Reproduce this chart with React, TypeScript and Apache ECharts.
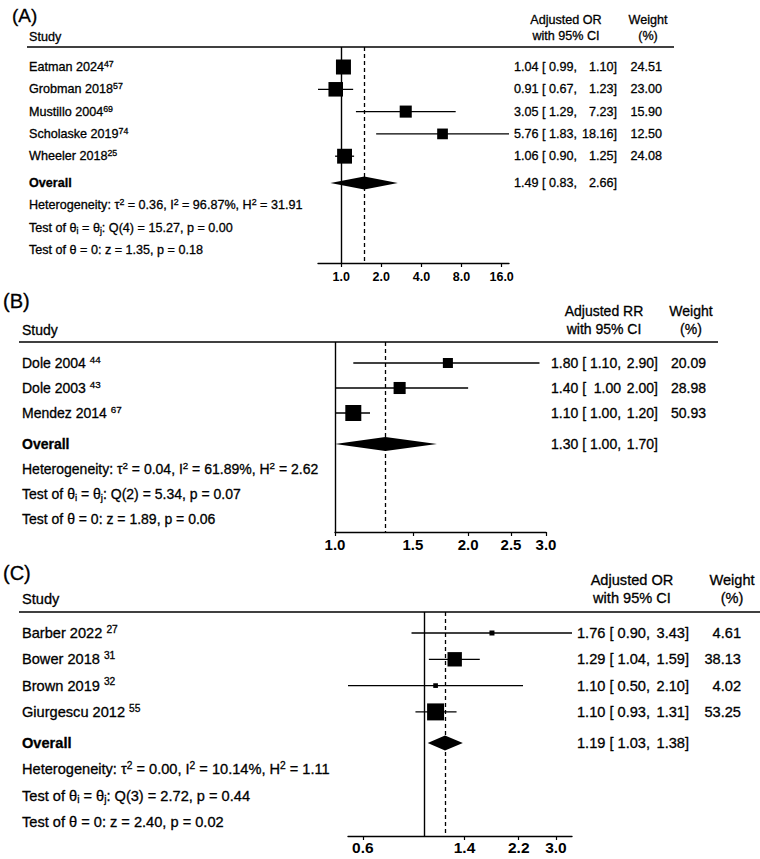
import React, { useEffect, useRef } from 'react';
import * as echarts from 'echarts';

const FONT = "'Liberation Sans', Arial, Helvetica, sans-serif";

// ---------- Panel A (Adjusted OR) ----------
const studiesA = ['Eatman 2024', 'Grobman 2018', 'Mustillo 2004', 'Scholaske 2019', 'Wheeler 2018'];
const refsA = ['47', '57', '69', '74', '25'];
const estA = [1.04, 0.91, 3.05, 5.76, 1.06];
const lowA = [0.99, 0.67, 1.29, 1.83, 0.9];
const highA = [1.1, 1.23, 7.23, 18.16, 1.25];
const weightA = [24.51, 23.0, 15.9, 12.5, 24.08];
const ciLeftA = ['1.04 [ 0.99,', '0.91 [ 0.67,', '3.05 [ 1.29,', '5.76 [ 1.83,', '1.06 [ 0.90,'];
const ciRightA = ['1.10]', '1.23]', '7.23]', '18.16]', '1.25]'];
const overallA = [1.49, 0.83, 2.66];
const overallTextA = ['1.49 [ 0.83,', '2.66]'];
const statsA = [
  'Heterogeneity: τ{p|2} = 0.36, I{p|2} = 96.87%, H{p|2} = 31.91',
  'Test of θ{b|i} = θ{b|j}: Q(4) = 15.27, p = 0.00',
  'Test of θ = 0: z = 1.35, p = 0.18',
];
const ticksA = [1, 2, 4, 8, 16];

// ---------- Panel B (Adjusted RR) ----------
const studiesB = ['Dole 2004', 'Dole 2003', 'Mendez 2014'];
const refsB = ['44', '43', '67'];
const estB = [1.8, 1.4, 1.1];
const lowB = [1.1, 1.0, 1.0];
const highB = [2.9, 2.0, 1.2];
const weightB = [20.09, 28.98, 50.93];
const ciLeftB = ['1.80 [ 1.10,', '1.40 [  1.00', '1.10 [ 1.00,'];
const ciRightB = ['2.90]', '2.00]', '1.20]'];
const overallB = [1.3, 1.0, 1.7];
const overallTextB = ['1.30 [ 1.00,', '1.70]'];
const statsB = [
  'Heterogeneity: τ{p|2} = 0.04, I{p|2} = 61.89%, H{p|2} = 2.62',
  'Test of θ{b|i} = θ{b|j}: Q(2) = 5.34, p = 0.07',
  'Test of θ = 0: z = 1.89, p = 0.06',
];
const ticksB = [1.0, 1.5, 2.0, 2.5, 3.0];

// ---------- Panel C (Adjusted OR) ----------
const studiesC = ['Barber 2022', 'Bower 2018', 'Brown 2019', 'Giurgescu 2012'];
const refsC = ['27', '31', '32', '55'];
const estC = [1.76, 1.29, 1.1, 1.1];
const lowC = [0.9, 1.04, 0.53, 0.93];
const highC = [3.43, 1.59, 2.28, 1.31];
const weightC = [4.61, 38.13, 4.02, 53.25];
const ciLeftC = ['1.76 [ 0.90,', '1.29 [ 1.04,', '1.10 [ 0.50,', '1.10 [ 0.93,'];
const ciRightC = ['3.43]', '1.59]', '2.10]', '1.31]'];
const overallC = [1.19, 1.03, 1.38];
const overallTextC = ['1.19 [ 1.03,', '1.38]'];
const statsC = [
  'Heterogeneity: τ{p|2} = 0.00, I{p|2} = 10.14%, H{p|2} = 1.11',
  'Test of θ{b|i} = θ{b|j}: Q(3) = 2.72, p = 0.44',
  'Test of θ = 0: z = 2.40, p = 0.02',
];
const ticksC = [0.6, 1.4, 2.2, 3.0];

type Layout = {
  fs: number; tickFs: number; tickMargin: number; letterFs: number; letterX: number; letterY: number;
  labelX: number; refGap: string; ruleX1: number; ruleX2: number; ruleY: number;
  head1Y: number; head2Y: number; studyY: number; col1X: number; col2X: number;
  ciLX: number; ciRX: number; wRX: number; gridLeft: number; gridWidth: number;
  axisY: number; rowY0: number; step: number; overallGap: number; maxBox: number; diamondH: number;
};

type Panel = {
  letter: string; measure: string; studies: string[]; refs: string[];
  est: number[]; low: number[]; high: number[]; weight: number[];
  ciLeft: string[]; ciRight: string[]; overall: number[]; overallText: string[];
  stats: string[]; ticks: number[]; L: Layout;
};

const panels: Panel[] = [
  {
    letter: '(A)', measure: 'Adjusted OR', studies: studiesA, refs: refsA, est: estA, low: lowA, high: highA,
    weight: weightA, ciLeft: ciLeftA, ciRight: ciRightA, overall: overallA, overallText: overallTextA,
    stats: statsA, ticks: ticksA,
    L: {
      fs: 12.6, tickFs: 12.5, tickMargin: 7, letterFs: 19, letterX: 12, letterY: 15, labelX: 29, refGap: '', ruleX1: 27, ruleX2: 674,
      ruleY: 47, head1Y: 20, head2Y: 36, studyY: 37, col1X: 566, col2X: 648, ciLX: 514, ciRX: 617, wRX: 662,
      gridLeft: 318, gridWidth: 191, axisY: 263, rowY0: 67, step: 22.3, overallGap: 1.2, maxBox: 15, diamondH: 13,
    },
  },
  {
    letter: '(B)', measure: 'Adjusted RR', studies: studiesB, refs: refsB, est: estB, low: lowB, high: highB,
    weight: weightB, ciLeft: ciLeftB, ciRight: ciRightB, overall: overallB, overallText: overallTextB,
    stats: statsB, ticks: ticksB,
    L: {
      fs: 14, tickFs: 15, tickMargin: 5, letterFs: 20, letterX: 3, letterY: 301, labelX: 22, refGap: ' ', ruleX1: 19, ruleX2: 718,
      ruleY: 342, head1Y: 311, head2Y: 329, studyY: 330, col1X: 604, col2X: 691, ciLX: 551, ciRX: 658, wRX: 706,
      gridLeft: 335, gridWidth: 211, axisY: 532, rowY0: 363, step: 25, overallGap: 1.24, maxBox: 16, diamondH: 14,
    },
  },
  {
    letter: '(C)', measure: 'Adjusted OR', studies: studiesC, refs: refsC, est: estC, low: lowC, high: highC,
    weight: weightC, ciLeft: ciLeftC, ciRight: ciRightC, overall: overallC, overallText: overallTextC,
    stats: statsC, ticks: ticksC,
    L: {
      fs: 14.6, tickFs: 15.5, tickMargin: 3, letterFs: 20, letterX: 3, letterY: 573, labelX: 22, refGap: ' ', ruleX1: 19, ruleX2: 760,
      ruleY: 612, head1Y: 580, head2Y: 598, studyY: 599, col1X: 632, col2X: 732, ciLX: 577, ciRX: 689, wRX: 741,
      gridLeft: 348, gridWidth: 224, axisY: 836, rowY0: 633, step: 26.3, overallGap: 1.18, maxBox: 17, diamondH: 15,
    },
  },
];

const INK = { fill: '#000', stroke: '#000', lineWidth: 0.3 };

function txt(x: number, y: number, text: string, fs: number, align: string, extra: any = {}) {
  return {
    type: 'text',
    style: {
      text, x, y, fontSize: fs, fontFamily: FONT, ...INK,
      align, textAlign: align, verticalAlign: 'middle', textVerticalAlign: 'middle', ...extra,
    },
  };
}

function gtxt(x: number, y: number, text: string, fs: number, align: string) {
  return {
    type: 'text', x, y,
    style: {
      text, fontSize: fs, fontFamily: FONT, ...INK,
      align, textAlign: align, verticalAlign: 'middle', textVerticalAlign: 'middle',
    },
  };
}

function richStyles(fs: number) {
  const small = Math.round(fs * 0.7 * 10) / 10;
  return {
    n: { fontSize: fs, fontFamily: FONT, lineHeight: fs * 1.2, ...INK },
    s: { fontSize: small, fontFamily: FONT, lineHeight: small + 1, verticalAlign: 'top', ...INK },
    p: { fontSize: small, fontFamily: FONT, lineHeight: small + 1, verticalAlign: 'top', ...INK },
    b: { fontSize: small, fontFamily: FONT, lineHeight: small + 1, verticalAlign: 'bottom', ...INK },
  };
}

function buildOption() {
  const grid: any[] = [];
  const xAxis: any[] = [];
  const yAxis: any[] = [];
  const series: any[] = [];
  const graphic: any[] = [];

  panels.forEach((P, k) => {
    const L = P.L;
    const axisMin = Math.min(...P.low, P.overall[1], P.ticks[0]);
    const axisMax = Math.max(...P.high, P.overall[2], P.ticks[P.ticks.length - 1]);
    const yMin = (L.ruleY - L.rowY0) / L.step;
    const yMax = (L.axisY - L.rowY0) / L.step;
    const maxW = Math.max(...P.weight);
    const overallRow = P.studies.length - 1 + L.overallGap;

    grid.push({ left: L.gridLeft, top: L.ruleY, width: L.gridWidth, height: L.axisY - L.ruleY, containLabel: false });
    xAxis.push({
      type: 'log', gridIndex: k, min: axisMin, max: axisMax, logBase: 10,
      axisLine: { show: true, onZero: false, lineStyle: { color: '#000', width: 1.4 } },
      axisTick: { show: true, customValues: P.ticks, length: 4, inside: false, lineStyle: { color: '#000', width: 1.2 } },
      axisLabel: {
        show: true, customValues: P.ticks, formatter: (v: number) => Number(v).toFixed(1),
        fontSize: L.tickFs, fontWeight: 'bold', color: '#000', fontFamily: FONT, margin: L.tickMargin,
        showMinLabel: true, showMaxLabel: true, hideOverlap: false,
      },
      splitLine: { show: false }, minorTick: { show: false }, minorSplitLine: { show: false },
    });
    yAxis.push({ type: 'value', gridIndex: k, min: yMin, max: yMax, inverse: true, show: false, splitLine: { show: false } });

    const rich = richStyles(L.fs);

    series.push({
      type: 'custom', coordinateSystem: 'cartesian2d', xAxisIndex: k, yAxisIndex: k,
      data: P.studies.map((_, i) => [i, P.est[i], P.low[i], P.high[i], P.weight[i]]),
      encode: { x: [1, 2, 3], y: 0 },
      renderItem: (params: any, api: any) => {
        const i = params.dataIndex;
        const row = api.value(0);
        const pE = api.coord([api.value(1), row]);
        const pL = api.coord([api.value(2), row]);
        const pH = api.coord([api.value(3), row]);
        const s = L.maxBox * Math.sqrt(api.value(4) / maxW);
        const y = pE[1];
        return {
          type: 'group',
          children: [
            { type: 'line', shape: { x1: pL[0], y1: y, x2: pH[0], y2: y }, style: { stroke: '#000', lineWidth: 1.3 } },
            { type: 'rect', shape: { x: pE[0] - s / 2, y: y - s / 2, width: s, height: s }, style: { fill: '#000' } },
            txt(L.labelX, y, `{n|${P.studies[i]}${L.refGap}}{s|${P.refs[i]}}`, L.fs, 'left', { rich, lineHeight: L.fs * 1.2 }),
            txt(L.ciLX, y, P.ciLeft[i], L.fs, 'left'),
            txt(L.ciRX, y, P.ciRight[i], L.fs, 'right'),
            txt(L.wRX, y, P.weight[i].toFixed(2), L.fs, 'right'),
          ],
        };
      },
      markLine: {
        silent: true, symbol: ['none', 'none'], label: { show: false }, animation: false,
        data: [
          { xAxis: 1, lineStyle: { type: 'solid', color: '#000', width: 1.4 } },
          { xAxis: P.overall[0], lineStyle: { type: [4, 3], color: '#000', width: 1.3 } },
        ],
      },
      z: 3,
    });

    series.push({
      type: 'custom', coordinateSystem: 'cartesian2d', xAxisIndex: k, yAxisIndex: k,
      data: [[overallRow, P.overall[0], P.overall[1], P.overall[2]]],
      encode: { x: [1, 2, 3], y: 0 },
      renderItem: (params: any, api: any) => {
        const row = api.value(0);
        const c = api.coord([api.value(1), row]);
        const l = api.coord([api.value(2), row]);
        const r = api.coord([api.value(3), row]);
        const h = L.diamondH / 2;
        const y = c[1];
        const children: any[] = [
          { type: 'polygon', shape: { points: [[l[0], y], [c[0], y - h], [r[0], y], [c[0], y + h]] }, style: { fill: '#000' } },
          txt(L.labelX, y, 'Overall', L.fs, 'left', { fontWeight: 'bold' }),
          txt(L.ciLX, y, P.overallText[0], L.fs, 'left'),
          txt(L.ciRX, y, P.overallText[1], L.fs, 'right'),
        ];
        P.stats.forEach((st, j) => {
          const yy = api.coord([1, row + 1 + j])[1];
          children.push(txt(L.labelX, yy, st, L.fs, 'left', { rich, lineHeight: L.fs * 1.2 }));
        });
        return { type: 'group', children };
      },
      z: 4,
    });

    graphic.push(
      gtxt(L.letterX, L.letterY, P.letter, L.letterFs, 'left'),
      gtxt(L.labelX, L.studyY, 'Study', L.fs, 'left'),
      gtxt(L.col1X, L.head1Y, P.measure, L.fs, 'center'),
      gtxt(L.col1X, L.head2Y, 'with 95% CI', L.fs, 'center'),
      gtxt(L.col2X, L.head1Y, 'Weight', L.fs, 'center'),
      gtxt(L.col2X, L.head2Y, '(%)', L.fs, 'center'),
      { type: 'line', shape: { x1: L.ruleX1, y1: L.ruleY, x2: L.ruleX2, y2: L.ruleY }, style: { stroke: '#000', lineWidth: 1.6 } },
    );
  });

  return {
    animation: false,
    backgroundColor: '#fff',
    grid, xAxis, yAxis, series, graphic,
  };
}

export default function App() {
  const ref = useRef<HTMLDivElement>(null);
  useEffect(() => {
    if (!ref.current) return;
    const chart = echarts.init(ref.current, undefined, { renderer: 'svg' });
    chart.setOption(buildOption() as any);
    return () => chart.dispose();
  }, []);
  return <div ref={ref} style={{ position: 'absolute', left: 0, top: 0, width: 760, height: 859 }} />;
}
